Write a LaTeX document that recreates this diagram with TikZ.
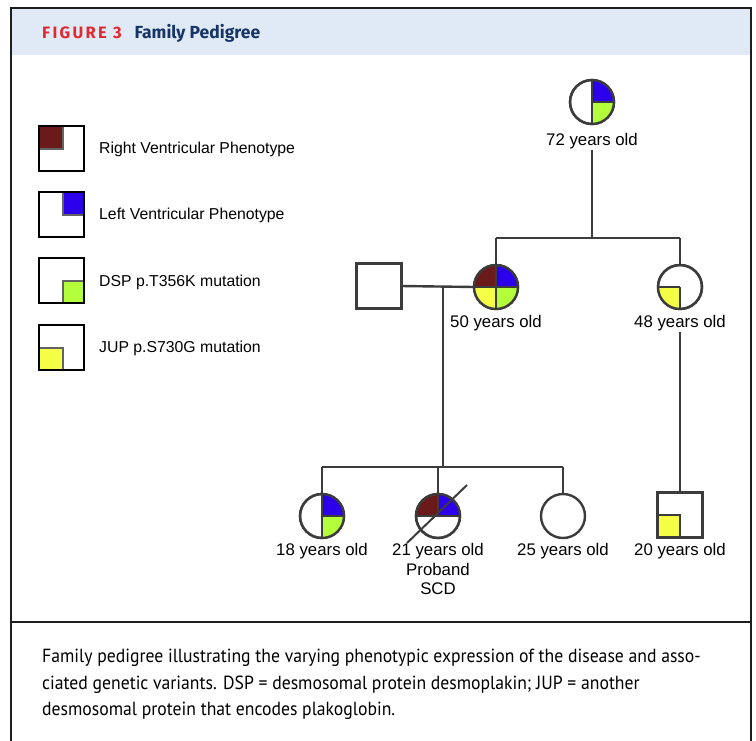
\documentclass[tikz,border=0pt]{standalone}
\usepackage{fontspec}
\setmainfont{Liberation Sans}
\newfontfamily\capfont[FakeStretch=0.93]{PT Sans}
\newfontfamily\headfont{Fira Sans}
\usetikzlibrary{calc}
\definecolor{linec}{HTML}{3C3C3C}
\definecolor{rvcol}{HTML}{6B1A1A}
\definecolor{lvcol}{HTML}{2D00EB}
\definecolor{dspcol}{HTML}{B4FF3C}
\definecolor{jupcol}{HTML}{F5FF45}
\definecolor{hdrbg}{HTML}{DFEAF6}
\definecolor{figred}{HTML}{E4282F}
\definecolor{navy}{HTML}{173466}
\definecolor{framec}{HTML}{1E1E1E}
\newcommand\qd[4]{%
  \begin{scope}\clip (#1.center) circle[radius=22pt];
    \fill[#2] (#1.center) rectangle ++(#3*25,#4*25);\end{scope}
  \draw[qline] (#1.center) -- ++(#3*22,0);
  \draw[qline] (#1.center) -- ++(0,#4*22);}
\newcommand\ring[1]{\draw[draw=linec,line width=2.4pt] (#1.center) circle[radius=22pt];}
\begin{document}
\begin{tikzpicture}[x=1pt,y=-1pt,
  fem/.style={circle,draw=linec,line width=2.4pt,fill=white,minimum size=44pt,inner sep=0pt,outer sep=0pt},
  male/.style={rectangle,draw=linec,line width=2.4pt,fill=white,minimum size=45pt,inner sep=0pt,outer sep=0pt},
  qline/.style={draw=linec,line width=2pt},
  lab/.style={font=\fontsize{16.8}{19.5}\selectfont,inner sep=0pt,align=center},
  legbox/.style={rectangle,draw=black,line width=2.4pt,fill=white,minimum size=45pt,inner sep=0pt,outer sep=0pt},
  legin/.style={draw=linec!80,line width=2pt},
  leglab/.style={font=\fontsize{15.8}{18}\selectfont,anchor=west,inner sep=0pt},
  edge/.style={draw=linec,line width=2.4pt},
  frame/.style={draw=framec,line width=2pt}]
\useasboundingbox (0,0) rectangle (756,740);
% header and frame
\fill[hdrbg] (11,8) rectangle (751,55);
\draw[frame] (11,742) -- (11,8) -- (751,8) -- (751,742);
\draw[frame] (11,622) -- (751,622);
\node[anchor=base west,inner sep=0pt] (title) at (42,38.5)
  {\headfont\bfseries\fontsize{16.5}{19}\selectfont{\color{figred}\addfontfeatures{LetterSpace=14}FIGURE 3}\hspace{13pt}{\color{navy}\fontsize{17.5}{19}\selectfont Family Pedigree}};
\node[anchor=north west,inner sep=0pt,align=left,font=\capfont\fontsize{19}{26.5}\selectfont] (caption) at (42,649)
  {Family pedigree illustrating the varying phenotypic expression of the disease and asso-\\
   ciated genetic variants. DSP = desmosomal protein desmoplakin; JUP = another\\
   desmosomal protein that encodes plakoglobin.};
% legend
\node[legbox] (lg1) at (61.5,148.5) {};
\node[legbox] (lg2) at (61.5,214.5) {};
\node[legbox] (lg3) at (61.5,280.5) {};
\node[legbox] (lg4) at (61.5,347.5) {};
\filldraw[legin,fill=rvcol] (lg1.north west) rectangle ($(lg1.center)+(1.5,0.5)$);
\filldraw[legin,fill=lvcol] (lg2.north east) rectangle ($(lg2.center)+(1.5,0.5)$);
\filldraw[legin,fill=dspcol] (lg3.south east) rectangle ($(lg3.center)+(1.5,0.5)$);
\filldraw[legin,fill=jupcol] (lg4.south west) rectangle ($(lg4.center)+(1.5,0.5)$);
\foreach \n in {lg1,lg2,lg3,lg4} {\draw[draw=black,line width=2.4pt] (\n.north west) rectangle (\n.south east);}
\node[leglab] (t1) at (99,149) {Right Ventricular Phenotype};
\node[leglab] (t2) at (99,215) {Left Ventricular Phenotype};
\node[leglab] (t3) at (99,282) {DSP p.T356K mutation};
\node[leglab] (t4) at (99,348) {JUP p.S730G mutation};
% individuals
\node[fem] (g72) at (592,102) {};
\node[fem] (g50) at (496,287) {};
\node[fem] (g48) at (680,287) {};
\node[male] (fa) at (379,286) {};
\node[fem] (c18) at (322,516) {};
\node[fem] (c21) at (438,516) {};
\node[fem] (c25) at (563,516) {};
\node[male] (c20) at (680,515) {};
\qd{g72}{lvcol}{1}{-1}\qd{g72}{dspcol}{1}{1}\ring{g72}
\qd{g50}{rvcol}{-1}{-1}\qd{g50}{lvcol}{1}{-1}\qd{g50}{jupcol}{-1}{1}\qd{g50}{dspcol}{1}{1}\ring{g50}
\qd{g48}{jupcol}{-1}{1}\ring{g48}
\qd{c18}{lvcol}{1}{-1}\qd{c18}{dspcol}{1}{1}\ring{c18}
\qd{c21}{rvcol}{-1}{-1}\qd{c21}{lvcol}{1}{-1}\ring{c21}
\filldraw[qline,fill=jupcol] (c20.south west) rectangle (c20.center);
\draw[draw=linec,line width=2.4pt] (c20.north west) rectangle (c20.south east);
% labels
\node[lab] (l72) at (592,141) {72 years old};
\node[lab] (l50) at (496,323) {50 years old};
\node[lab] (l48) at (680,323) {48 years old};
\node[lab] (l18) at (322,551) {18 years old};
\node[lab,anchor=north] (l21) at (438,543.5) {21 years old\\Proband\\SCD};
\node[lab] (l25) at (563,551) {25 years old};
\node[lab] (l20) at (680,551) {20 years old};
% connectors
\coordinate (s1) at (592,238);
\coordinate (m) at (443,286);
\coordinate (s2) at (443,467);
\draw[edge] ($(l72.south)+(0,1)$) -- (s1);
\draw[edge] (g50.north |- s1) -- (g48.north |- s1);
\draw[edge] (g50.north |- s1) -- (g50.north);
\draw[edge] (g48.north |- s1) -- (g48.north);
\draw[edge] (fa.east) -- (g50.west);
\draw[edge] (m) -- (s2);
\draw[edge] (c18.north |- s2) -- (c25.north |- s2);
\draw[edge] (c18.north |- s2) -- (c18.north);
\draw[edge] (c21.north |- s2) -- (c21.north);
\draw[edge] (c25.north |- s2) -- (c25.north);
\draw[edge] ($(l48.south)+(0,1)$) -- (c20.north);
% proband slash
\coordinate (sa) at ($(c21.center)+(-31,27)$);
\coordinate (sb) at ($(c21.center)+(29,-31)$);
\draw[edge,line width=2pt] (sa) -- (sb);
\end{tikzpicture}
\end{document}
